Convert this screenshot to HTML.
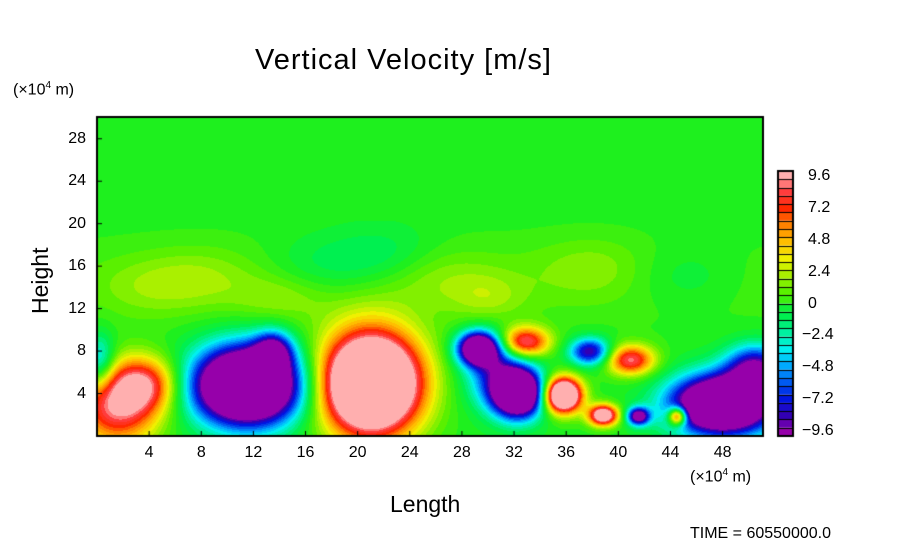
<!DOCTYPE html>
<html><head><meta charset="utf-8">
<style>
body{margin:0;background:#fff;width:904px;height:544px;overflow:hidden;font-family:"Liberation Sans",sans-serif;}
#wrap{position:relative;width:904px;height:544px;}
.t{position:absolute;color:#000;white-space:nowrap;}
canvas{position:absolute;left:0;top:0;}
</style></head>
<body><div id="wrap">
<canvas id="cv" width="904" height="544"></canvas>
<div class="t" style="left:255px;top:44px;font-size:29px;letter-spacing:1px;">Vertical Velocity [m/s]</div>
<div class="t" style="left:13px;top:80px;font-size:16px;">(×10<sup style="font-size:10px">4</sup> m)</div>
<div class="t" style="left:690px;top:467px;font-size:16px;">(×10<sup style="font-size:10px">4</sup> m)</div>
<div class="t" style="left:390px;top:491px;font-size:23px;">Length</div>
<div class="t" style="left:3px;top:262px;font-size:23px;transform:rotate(-90deg);transform-origin:38px 14px;width:76px;">Height</div>
<div class="t" style="left:690px;top:525px;font-size:16px;">TIME = 60550000.0</div>
<div id="labels"></div>
</div>
<script>
const xTicks=[4,8,12,16,20,24,28,32,36,40,44,48];
const yTicks=[4,8,12,16,20,24,28];
const cbLabels=["9.6","7.2","4.8","2.4","0","\u22122.4","\u22124.8","\u22127.2","\u22129.6"];
const cbValues=[9.6,7.2,4.8,2.4,0,-2.4,-4.8,-7.2,-9.6];
// blobs: center x, center y (1e4 m), amplitude (m/s), sigma x, sigma y
const blobX=[1.5,3.6,0.2,11.5,13.5,21,29.2,32.3,32.8,35.7,37.8,38.8,40.9,41.5,44.5,48,50.5,30.5,17,26,8,38,45,14,30,22,4,25];
const blobY=[2.8,5,7,4.8,8,5,8.3,4.1,8.9,3.9,8,2,7.2,1.9,1.9,3,6.5,6,16,15,15,16,15,13,13,17,14,14.5];
const blobA=[9,7,-5,-22,-8,22,-15,-18,9.5,18,-9,13,9,-11,12,-20,-9,-6,-1.5,1.2,1.2,1.2,-1.3,1.4,1.5,-1.8,1.2,1.0];
const blobSX=[2.3,1.8,0.8,2.8,1.0,2.6,1.1,1.35,1.3,1.0,1.1,0.8,1.3,0.6,0.5,2.7,1.6,1.6,3,3,3,3,3,2.5,2,3,3,30];
const blobSY=[2.6,1.8,1.8,2.5,1.3,3.3,1.1,1.6,1.0,1.15,0.9,0.7,1.0,0.6,0.6,1.9,1.5,2.2,2,2,2,2,2,1.6,1.6,2,2,3];

const PX0=97,PX1=763,PY0=117,PY1=436;
const XMAX=51.1,YMAX=30.05;
function sx(x){return PX0+x/XMAX*(PX1-PX0);}
function sy(y){return PY1-y/YMAX*(PY1-PY0);}
const stops=[[-9.6,[150,0,170]],[-8.4,[50,0,180]],[-7.2,[0,20,225]],[-6,[0,90,240]],[-4.8,[0,170,255]],[-3.6,[0,240,240]],[-2.4,[0,240,160]],[-1.2,[0,240,80]],[0,[30,240,30]],[1.2,[90,240,0]],[2.4,[170,240,0]],[3.6,[240,240,0]],[4.8,[255,190,0]],[6,[255,130,0]],[7.2,[255,40,0]],[8.4,[255,60,60]],[9.6,[255,175,175]]];
function col(v){
  v=Math.max(-9.6,Math.min(9.6,v));
  v=Math.round(v/0.6)*0.6;
  for(let i=0;i<stops.length-1;i++){
    const a=stops[i],b=stops[i+1];
    if(v<=b[0]+1e-9){const t=(v-a[0])/(b[0]-a[0]);return a[1].map((c,k)=>Math.round(c+(b[1][k]-c)*t));}
  }
  return stops[stops.length-1][1];
}
function field(x,y){
  let v=0;
  for(let i=0;i<blobX.length;i++){
    const dx=(x-blobX[i])/blobSX[i],dy=(y-blobY[i])/blobSY[i];
    v+=blobA[i]*Math.exp(-0.5*(dx*dx+dy*dy));
  }
  return v;
}
const cv=document.getElementById('cv');const ctx=cv.getContext('2d');
const img=ctx.createImageData(PX1-PX0,PY1-PY0);
for(let py=0;py<PY1-PY0;py++){for(let px=0;px<PX1-PX0;px++){
  const x=px/(PX1-PX0)*XMAX,y=(PY1-PY0-py)/(PY1-PY0)*YMAX;
  let v=field(x,y);if(y>20.3)v=0;
  const c=col(v);const o=(py*(PX1-PX0)+px)*4;
  img.data[o]=c[0];img.data[o+1]=c[1];img.data[o+2]=c[2];img.data[o+3]=255;
}}
ctx.putImageData(img,PX0,PY0);
ctx.strokeStyle='#000';ctx.lineWidth=2;ctx.strokeRect(PX0,PY0,PX1-PX0,PY1-PY0);
ctx.lineWidth=1;
xTicks.forEach(t=>{ctx.beginPath();ctx.moveTo(sx(t),PY1);ctx.lineTo(sx(t),PY1-5);ctx.stroke();});
yTicks.forEach(t=>{ctx.beginPath();ctx.moveTo(PX0,sy(t));ctx.lineTo(PX0+5,sy(t));ctx.stroke();});
const CX=778,CW=15,CT=171,CB=436,N=32;
for(let i=0;i<N;i++){
  const v=9.6-i*(19.2/(N-1));
  const c=col(v);ctx.fillStyle='rgb('+c.join(',')+')';
  const y0=CT+i*(CB-CT)/N;ctx.fillRect(CX,y0,CW,(CB-CT)/N);
  ctx.fillStyle='#000';ctx.fillRect(CX,Math.round(y0),CW,1);
}
ctx.lineWidth=2;ctx.strokeRect(CX,CT,CW,CB-CT);
const L=document.getElementById('labels');
function lab(txt,x,y,name,align){
  const d=document.createElement('div');d.className='t';
  
  
  d.textContent=txt;d.style.fontSize='16px';d.style.top=(y-9)+'px';
  if(align==='c'){d.style.left=(x-20)+'px';d.style.width='40px';d.style.textAlign='center';}
  else if(align==='r'){d.style.left=(x-40)+'px';d.style.width='40px';d.style.textAlign='right';}
  else d.style.left=x+'px';
  L.appendChild(d);
}
xTicks.forEach(t=>lab(String(t),sx(t),453,'x-tick-label','c'));
yTicks.forEach(t=>lab(String(t),86,sy(t),'y-tick-label','r'));
cbValues.forEach((v,i)=>lab(cbLabels[i],v<0?802:808,CT+5+(9.6-v)/19.2*(CB-CT-10),'colorbar-label','l'));
</script>
</body></html>
